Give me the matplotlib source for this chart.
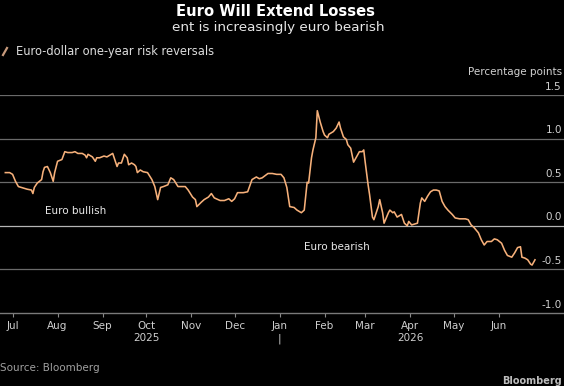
import pandas as pd
import matplotlib.pyplot as plt
from matplotlib.lines import Line2D

# Euro-dollar one-year risk reversals (percentage points)
dates = [
    "2025-06-26", "2025-06-29", "2025-07-01", "2025-07-03", "2025-07-05", "2025-07-07",
    "2025-07-11", "2025-07-14", "2025-07-15", "2025-07-16", "2025-07-18", "2025-07-21",
    "2025-07-22", "2025-07-23", "2025-07-25", "2025-07-27", "2025-07-29", "2025-07-30",
    "2025-08-01", "2025-08-04", "2025-08-06", "2025-08-08", "2025-08-11", "2025-08-13",
    "2025-08-15", "2025-08-18", "2025-08-20", "2025-08-21", "2025-08-22", "2025-08-25",
    "2025-08-27", "2025-08-28", "2025-08-30", "2025-09-02", "2025-09-04", "2025-09-05",
    "2025-09-08", "2025-09-09", "2025-09-11", "2025-09-12", "2025-09-14", "2025-09-16",
    "2025-09-18", "2025-09-19", "2025-09-21", "2025-09-23", "2025-09-24", "2025-09-25",
    "2025-09-27", "2025-09-29", "2025-10-02", "2025-10-05", "2025-10-07", "2025-10-09",
    "2025-10-11", "2025-10-13", "2025-10-16", "2025-10-18", "2025-10-20", "2025-10-23",
    "2025-10-25", "2025-10-28", "2025-10-30", "2025-11-02", "2025-11-04", "2025-11-05",
    "2025-11-08", "2025-11-10", "2025-11-13", "2025-11-15", "2025-11-17", "2025-11-21",
    "2025-11-24", "2025-11-27", "2025-11-29", "2025-12-01", "2025-12-03", "2025-12-07",
    "2025-12-10", "2025-12-13", "2025-12-16", "2025-12-18", "2025-12-20", "2025-12-24",
    "2025-12-27", "2025-12-30", "2026-01-02", "2026-01-04", "2026-01-06", "2026-01-08",
    "2026-01-11", "2026-01-13", "2026-01-16", "2026-01-18", "2026-01-20", "2026-01-21",
    "2026-01-23", "2026-01-24", "2026-01-26", "2026-01-27", "2026-01-29", "2026-01-31",
    "2026-02-01", "2026-02-03", "2026-02-04", "2026-02-07", "2026-02-09", "2026-02-11",
    "2026-02-12", "2026-02-14", "2026-02-16", "2026-02-17", "2026-02-19", "2026-02-21",
    "2026-02-23", "2026-02-25", "2026-02-27", "2026-02-28", "2026-03-01", "2026-03-03",
    "2026-03-04", "2026-03-06", "2026-03-07", "2026-03-10", "2026-03-11", "2026-03-13",
    "2026-03-14", "2026-03-17", "2026-03-18", "2026-03-20", "2026-03-21", "2026-03-23",
    "2026-03-26", "2026-03-28", "2026-03-30", "2026-03-31", "2026-04-02", "2026-04-04",
    "2026-04-06", "2026-04-08", "2026-04-09", "2026-04-11", "2026-04-13", "2026-04-15",
    "2026-04-17", "2026-04-19", "2026-04-21", "2026-04-23", "2026-04-25", "2026-04-27",
    "2026-04-30", "2026-05-02", "2026-05-05", "2026-05-09", "2026-05-11", "2026-05-13",
    "2026-05-15", "2026-05-18", "2026-05-20", "2026-05-22", "2026-05-24", "2026-05-27",
    "2026-05-29", "2026-05-31", "2026-06-03", "2026-06-05", "2026-06-07", "2026-06-10",
    "2026-06-12", "2026-06-14", "2026-06-16", "2026-06-17", "2026-06-19", "2026-06-21",
    "2026-06-23", "2026-06-24", "2026-06-26",
]
risk_reversals = [
    0.61, 0.61, 0.59, 0.51, 0.45, 0.44,
    0.42, 0.41, 0.37, 0.44, 0.49, 0.53,
    0.62, 0.67, 0.68, 0.61, 0.51, 0.61,
    0.74, 0.76, 0.85, 0.84, 0.84, 0.85,
    0.83, 0.83, 0.81, 0.78, 0.82, 0.79,
    0.74, 0.78, 0.78, 0.80, 0.79, 0.80,
    0.83, 0.78, 0.68, 0.72, 0.72, 0.82,
    0.78, 0.70, 0.72, 0.70, 0.68, 0.61,
    0.64, 0.62, 0.61, 0.53, 0.45, 0.30,
    0.44, 0.45, 0.47, 0.55, 0.53, 0.45,
    0.45, 0.45, 0.41, 0.33, 0.30, 0.22,
    0.27, 0.30, 0.33, 0.37, 0.32, 0.29,
    0.29, 0.31, 0.28, 0.31, 0.38, 0.38,
    0.39, 0.53, 0.56, 0.54, 0.55, 0.60,
    0.60, 0.59, 0.59, 0.55, 0.44, 0.22,
    0.21, 0.18, 0.15, 0.18, 0.50, 0.49,
    0.78, 0.87, 1.01, 1.32, 1.19, 1.08,
    1.04, 1.01, 1.05, 1.08, 1.12, 1.19,
    1.12, 1.02, 0.99, 0.93, 0.89, 0.73,
    0.79, 0.85, 0.85, 0.87, 0.73, 0.47,
    0.36, 0.10, 0.07, 0.22, 0.30, 0.15,
    0.03, 0.15, 0.18, 0.15, 0.16, 0.10,
    0.13, 0.03, 0.00, 0.05, 0.01, 0.02,
    0.03, 0.26, 0.32, 0.28, 0.34, 0.39,
    0.41, 0.41, 0.40, 0.28, 0.22, 0.18,
    0.13, 0.09, 0.08, 0.08, 0.07, 0.01,
    -0.02, -0.08, -0.16, -0.22, -0.18, -0.18,
    -0.15, -0.16, -0.20, -0.28, -0.34, -0.36,
    -0.31, -0.25, -0.24, -0.36, -0.37, -0.39,
    -0.44, -0.45, -0.39,
]

# axis ticks
y_ticks = [1.5, 1.0, 0.5, 0.0, -0.5, -1.0]
month_ticks = pd.date_range("2025-07-01", "2026-06-01", freq="MS")
month_labels = ["Jul", "Aug", "Sep", "Oct\n2025", "Nov", "Dec",
                "Jan\n|", "Feb", "Mar", "Apr\n2026", "May", "Jun"]

line_color = "#f6b07a"
W, H = 564, 386

plt.rcParams["font.family"] = "DejaVu Sans"

fig = plt.figure(figsize=(W / 100, H / 100), dpi=100, facecolor="black")
# plot area spans the full width, from -1.0 (y=313px) up to 1.5 (y=95px)
ax = fig.add_axes([0, (H - 313) / H, 1, (313 - 95) / H])
ax.set_facecolor("black")

x = pd.to_datetime(dates)
ax.plot(x, risk_reversals, color=line_color, lw=1.15, solid_joinstyle="round", zorder=3)

ax.set_xlim(pd.Timestamp("2025-06-22 08:00"), pd.Timestamp("2026-07-16"))
ax.set_ylim(-1.0, 1.5)

# horizontal gridlines, zero line a bit brighter
for v in y_ticks[:-1]:
    ax.axhline(v, color="#b5b5b5" if v == 0 else "#6a6a6a", lw=0.9, zorder=1)

# y labels sit just above their gridline, right aligned
for v in y_ticks:
    ax.annotate(f"{v:.1f}", xy=(1, v), xycoords=("axes fraction", "data"),
                xytext=(-1.5, 2.5), textcoords="offset points",
                ha="right", va="bottom", color="#d0d0d0", fontsize=7.5)
ax.set_yticks([])

for s in ["top", "left", "right"]:
    ax.spines[s].set_visible(False)
ax.spines["bottom"].set_color("#7a7a7a")
ax.spines["bottom"].set_linewidth(1.0)

ax.set_xticks(month_ticks)
ax.set_xticklabels(month_labels, linespacing=1.35)
ax.tick_params(axis="x", direction="out", length=3, width=0.8, color="#8a8a8a",
               labelcolor="#cfcfcf", labelsize=7.5, pad=2.5)

# region notes
ax.text(pd.Timestamp("2025-07-23"), 0.17, "Euro bullish", color="#e8e8e8",
        fontsize=7.5, ha="left", va="center")
ax.text(pd.Timestamp("2026-01-18"), -0.24, "Euro bearish", color="#e8e8e8",
        fontsize=7.5, ha="left", va="center")

# titles (left part is blanked out in the reference)
fig.text(176 / W, 1 - 12 / H, "Euro Will Extend Losses", color="white",
         fontsize=10.6, fontweight="bold", ha="left", va="center")
fig.text(172 / W, 1 - 27 / H, "ent is increasingly euro bearish", color="#e6e6e6",
         fontsize=9.7, ha="left", va="center")

# legend
fig.add_artist(Line2D([3 / W, 7 / W], [1 - 55 / H, 1 - 48 / H], color="#c79a7c",
                      lw=1.6, transform=fig.transFigure))
fig.text(16 / W, 1 - 51 / H, "Euro-dollar one-year risk reversals", color="#dcdcdc",
         fontsize=8.3, ha="left", va="center")

fig.text(562 / W, 1 - 72 / H, "Percentage points", color="#d0d0d0",
         fontsize=7.5, ha="right", va="center")

# source and logo
fig.text(0, 1 - 368 / H, "Source: Bloomberg", color="#a0a0a0",
         fontsize=7.5, ha="left", va="center")
fig.text(562 / W, 0.5 / H, "Bloomberg", color="#bdbdbd",
         fontsize=7, fontweight="bold", ha="right", va="bottom")

fig.savefig("out.png", dpi=100, facecolor="black")
